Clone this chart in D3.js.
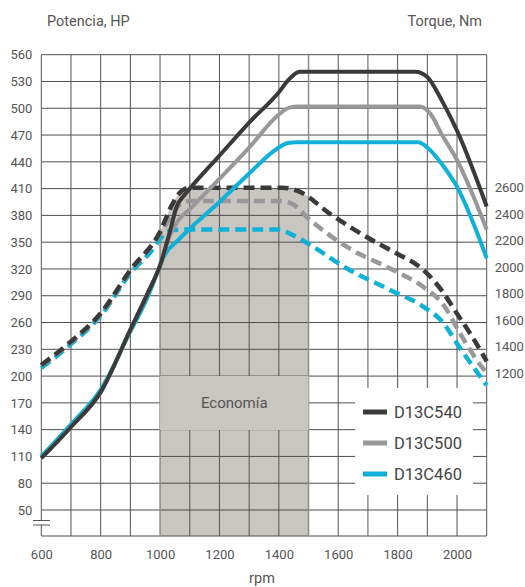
<!DOCTYPE html>
<html>
<head>
<meta charset="utf-8">
<script src="https://cdn.jsdelivr.net/npm/d3@7"></script>
<style>
  body { margin: 0; background: #fff; }
  text { font-family: Roboto, "Liberation Sans", sans-serif; }
</style>
</head>
<body>
<div id="chart"></div>
<script>
// axis ticks
const rpmLabels = [600, 800, 1000, 1200, 1400, 1600, 1800, 2000];
const rpmGrid = [600, 700, 800, 900, 1000, 1100, 1200, 1300, 1400, 1500, 1600, 1700, 1800, 1900, 2000, 2100];
const hpTicks = [50, 80, 110, 140, 170, 200, 230, 260, 290, 320, 350, 380, 410, 440, 470, 500, 530, 560];
const nmTicks = [1200, 1400, 1600, 1800, 2000, 2200, 2400, 2600];

const models = ["D13C540", "D13C500", "D13C460"];
const colours = ["#3a3a3a", "#98989b", "#0fb1d8"];

// power, HP  [rpm, hp]
const power540 = [[600, 108], [700, 143], [800, 182], [900, 252], [960, 294], [1000, 324], [1034, 363], [1056, 390], [1080, 402], [1100, 410], [1200, 447], [1300, 484], [1400, 518], [1433, 532], [1470, 541], [1860, 541], [1900, 535], [1950, 508], [2000, 475], [2100, 390]];
const power500 = [[600, 108], [700, 143], [800, 182], [900, 252], [960, 294], [1000, 324], [1030, 355], [1060, 374], [1100, 387], [1200, 421], [1300, 456], [1400, 493], [1430, 500], [1460, 502], [1875, 502], [1910, 494], [1950, 470], [2000, 442], [2100, 364]];
const power460 = [[600, 110], [700, 146], [800, 185], [900, 250], [960, 290], [1000, 324], [1010, 332], [1060, 352], [1100, 365], [1200, 395], [1300, 427], [1395, 455], [1430, 461], [1460, 462], [1870, 462], [1900, 456], [1950, 437], [2000, 412], [2100, 332]];

// torque, Nm  [rpm, Nm]
const torque540 = [[600, 1263], [700, 1440], [800, 1653], [900, 1979], [1000, 2268], [1040, 2470], [1070, 2570], [1100, 2600], [1410, 2600], [1470, 2570], [1570, 2407], [1700, 2222], [1800, 2100], [1870, 2010], [1920, 1904], [1950, 1820], [2000, 1650], [2050, 1480], [2100, 1290]];
const torque500 = [[600, 1258], [700, 1435], [800, 1648], [900, 1972], [1000, 2250], [1044, 2408], [1070, 2480], [1100, 2500], [1410, 2500], [1445, 2478], [1505, 2357], [1628, 2155], [1785, 1979], [1886, 1853], [1953, 1720], [2010, 1502], [2083, 1250], [2100, 1205]];
const torque460 = [[600, 1240], [700, 1420], [800, 1635], [900, 1955], [982, 2155], [1000, 2215], [1044, 2281], [1100, 2285], [1400, 2285], [1447, 2243], [1515, 2155], [1628, 1992], [1774, 1829], [1886, 1703], [1950, 1590], [2010, 1390], [2100, 1110]];

const economyRange = [1000, 1500];

const width = 525, height = 587;

const x = d3.scaleLinear().domain([600, 2100]).range([41.3, 486.7]);
const yHp = d3.scaleLinear().domain([50, 560]).range([510, 54.7]);
const yNm = d3.scaleLinear().domain([1200, 2600]).range([373.3, 187.7]);
const baseY = 536;

const svg = d3.select("#chart").append("svg")
  .attr("width", width)
  .attr("height", height);

// economy zone: area under the D13C540 torque curve
svg.append("clipPath").attr("id", "eco")
  .append("rect")
  .attr("x", x(economyRange[0]))
  .attr("y", 0)
  .attr("width", x(economyRange[1]) - x(economyRange[0]))
  .attr("height", height);

const ecoArea = d3.area()
  .x(d => x(d[0]))
  .y0(baseY)
  .y1(d => yNm(d[1]))
  .curve(d3.curveMonotoneX);

svg.append("path")
  .datum(torque540)
  .attr("clip-path", "url(#eco)")
  .attr("fill", "#c9c5c0")
  .attr("d", ecoArea);

// grid
const grid = svg.append("g").attr("class", "grid");
grid.selectAll("line.h")
  .data(hpTicks)
  .join("line")
  .attr("class", "h")
  .attr("x1", x(600)).attr("x2", x(2100))
  .attr("y1", d => yHp(d)).attr("y2", d => yHp(d))
  .attr("stroke", "#4f4f4f").attr("stroke-width", 1);

grid.append("line")
  .attr("x1", x(600)).attr("x2", x(2100))
  .attr("y1", baseY).attr("y2", baseY)
  .attr("stroke", "#4f4f4f").attr("stroke-width", 1);

grid.selectAll("line.v")
  .data(rpmGrid)
  .join("line")
  .attr("class", "v")
  .attr("x1", d => x(d)).attr("x2", d => x(d))
  .attr("y1", yHp(560)).attr("y2", baseY)
  .attr("stroke", d => (d === economyRange[0] || d === economyRange[1]) ? "#8e8c89" : "#555")
  .attr("stroke-width", d => (d === economyRange[0] || d === economyRange[1]) ? 1.5 : 1);

// axis break on the left
svg.append("rect")
  .attr("x", x(600) - 2).attr("y", 520.5)
  .attr("width", 4).attr("height", 4)
  .attr("fill", "#fff");
svg.selectAll("line.brk")
  .data([520.5, 525])
  .join("line")
  .attr("class", "brk")
  .attr("x1", 33).attr("x2", 50)
  .attr("y1", d => d).attr("y2", d => d)
  .attr("stroke", "#555").attr("stroke-width", 1);

// economy label
svg.append("rect")
  .attr("x", x(economyRange[0]))
  .attr("y", 376)
  .attr("width", x(economyRange[1]) - x(economyRange[0]))
  .attr("height", 54)
  .attr("fill", "#c9c5c0");
svg.append("text")
  .attr("x", (x(economyRange[0]) + x(economyRange[1])) / 2)
  .attr("y", 403)
  .attr("dy", "0.35em")
  .attr("text-anchor", "middle")
  .attr("font-size", 15)
  .attr("fill", "#555")
  .text("Economía");

// axes (labels only)
const axisStyle = g => {
  g.select(".domain").remove();
  g.selectAll("text").attr("fill", "#555").style("font-size", "13px").style("font-family", "Roboto, 'Liberation Sans', sans-serif");
};

svg.append("g")
  .attr("transform", `translate(${x(600)},0)`)
  .call(d3.axisLeft(yHp).tickValues(hpTicks).tickSize(0).tickPadding(9))
  .call(axisStyle);

svg.append("g")
  .attr("transform", `translate(${x(2100)},0)`)
  .call(d3.axisRight(yNm).tickValues(nmTicks).tickSize(0).tickPadding(8).tickFormat(d3.format("d")))
  .call(axisStyle);

svg.append("g")
  .attr("transform", `translate(0,${baseY})`)
  .call(d3.axisBottom(x).tickValues(rpmLabels).tickSize(0).tickPadding(14).tickFormat(d3.format("d")))
  .call(axisStyle);

// titles
svg.append("text").attr("x", 47).attr("y", 26)
  .attr("font-size", 14.5).attr("fill", "#555").text("Potencia, HP");
svg.append("text").attr("x", 482).attr("y", 26).attr("text-anchor", "end")
  .attr("font-size", 14.5).attr("fill", "#555").text("Torque, Nm");
svg.append("text").attr("x", 262).attr("y", 583).attr("text-anchor", "middle")
  .attr("font-size", 14.5).attr("fill", "#555").text("rpm");

// curves
const hpLine = d3.line().x(d => x(d[0])).y(d => yHp(d[1])).curve(d3.curveMonotoneX);
const nmLine = d3.line().x(d => x(d[0])).y(d => yNm(d[1])).curve(d3.curveMonotoneX);

const torques = [torque460, torque500, torque540];
const powers = [power460, power500, power540];
const order = [2, 1, 0];

svg.append("g").selectAll("path")
  .data(torques)
  .join("path")
  .attr("fill", "none")
  .attr("stroke", (d, i) => colours[order[i]])
  .attr("stroke-width", 4.5)
  .attr("stroke-dasharray", "11,6")
  .attr("d", nmLine);

svg.append("g").selectAll("path")
  .data(powers)
  .join("path")
  .attr("fill", "none")
  .attr("stroke", (d, i) => colours[order[i]])
  .attr("stroke-width", 4)
  .attr("stroke-linejoin", "round")
  .attr("d", hpLine);

// legend
const legend = svg.append("g");
legend.append("rect")
  .attr("x", 355).attr("y", 388)
  .attr("width", 118).attr("height", 107)
  .attr("fill", "#fff");
const items = legend.selectAll("g")
  .data(models)
  .join("g")
  .attr("transform", (d, i) => `translate(363,${412 + i * 31})`);
items.append("line")
  .attr("x1", 0).attr("x2", 24)
  .attr("stroke", (d, i) => colours[i])
  .attr("stroke-width", 5);
items.append("text")
  .attr("x", 31).attr("dy", "0.35em")
  .attr("font-size", 16.5).attr("fill", "#444")
  .text(d => d);
</script>
</body>
</html>
